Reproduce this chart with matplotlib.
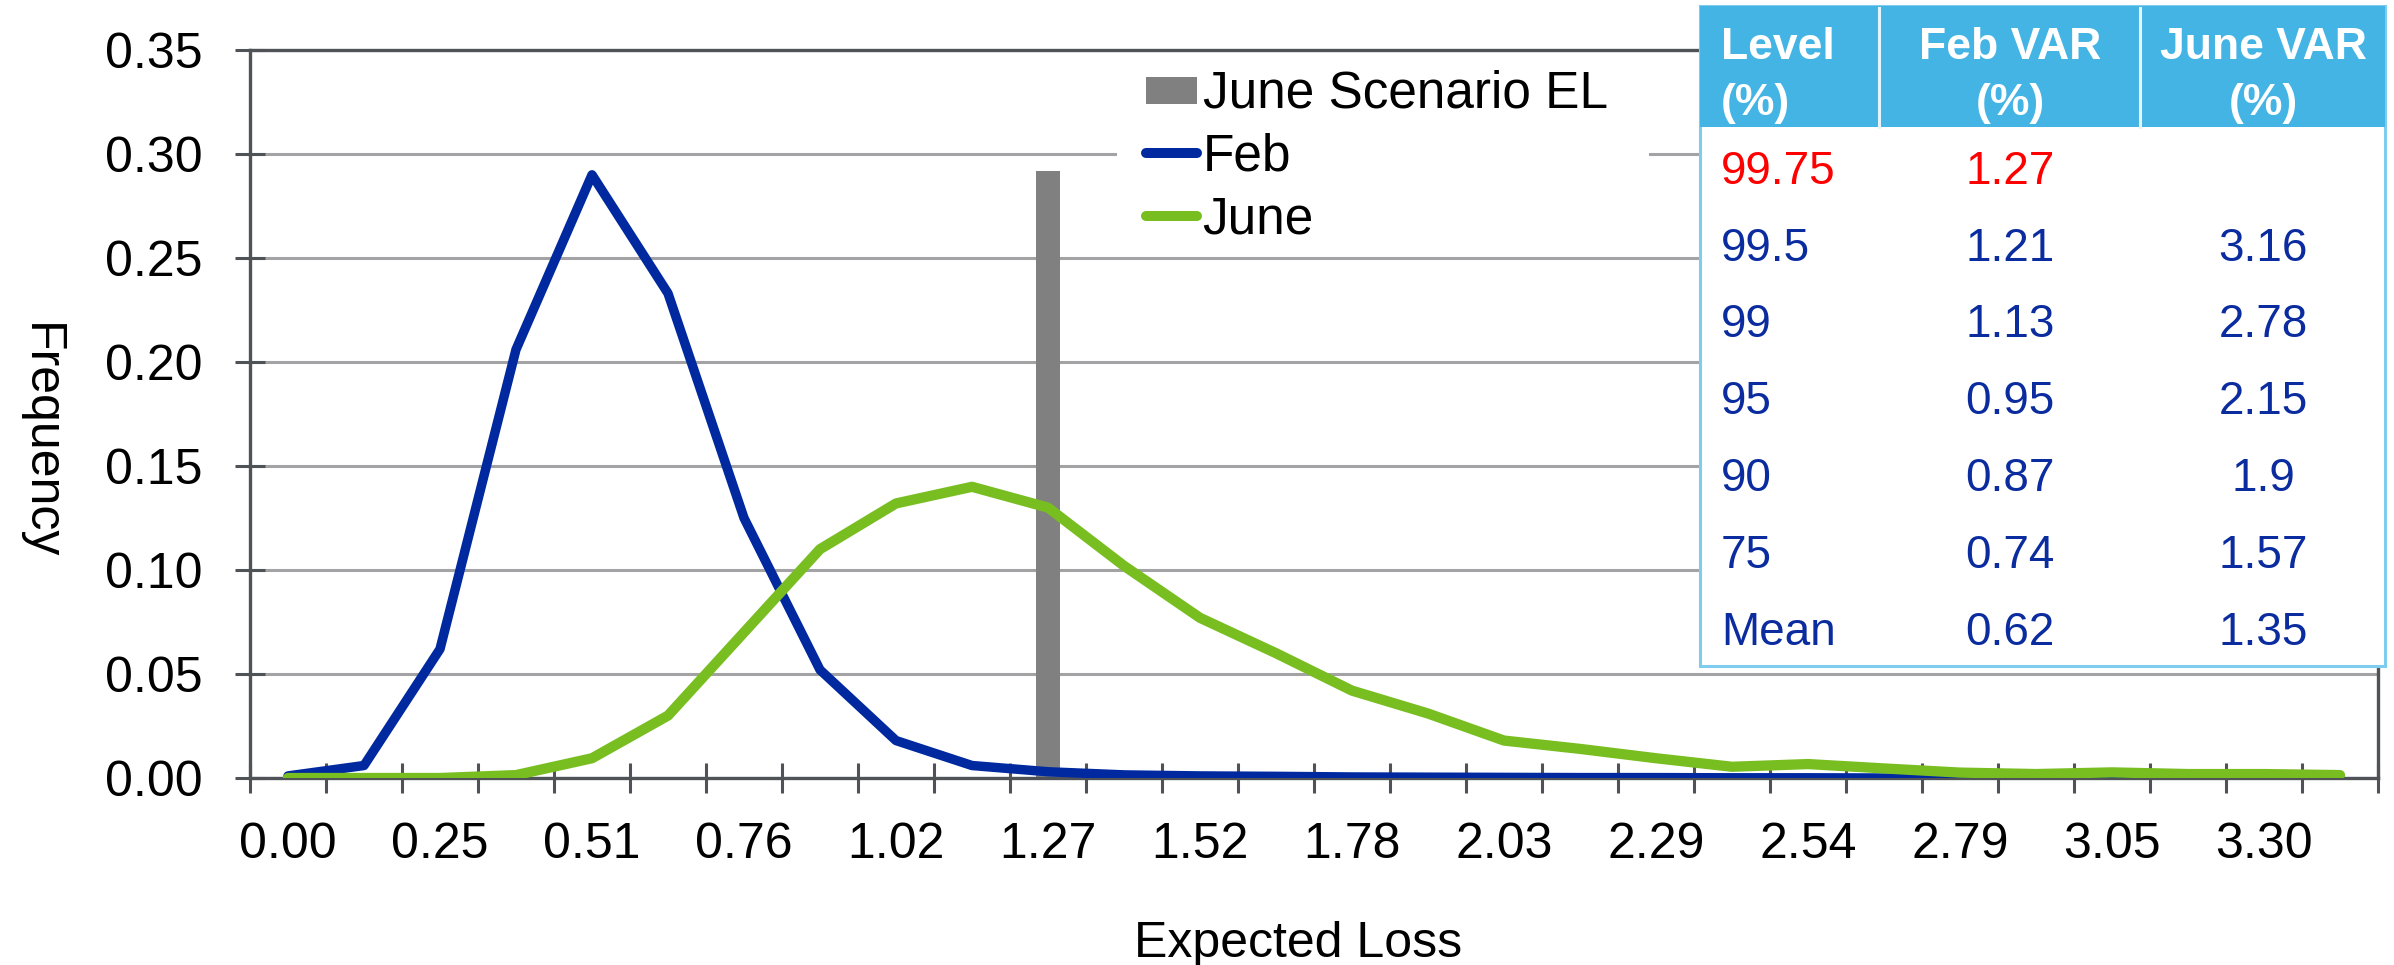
import matplotlib
matplotlib.use('Agg')
import matplotlib.pyplot as plt
from matplotlib.lines import Line2D
from matplotlib.patches import Rectangle
from matplotlib.legend_handler import HandlerPatch

plt.rcParams['font.family'] = ['Liberation Sans', 'DejaVu Sans']

# ---------------- data ----------------
categories = [0.00, 0.13, 0.25, 0.38, 0.51, 0.64, 0.76, 0.89, 1.02, 1.14,
              1.27, 1.40, 1.52, 1.65, 1.78, 1.91, 2.03, 2.16, 2.29, 2.41,
              2.54, 2.67, 2.79, 2.92, 3.05, 3.18, 3.30, 3.43]
feb = [0.001, 0.006, 0.062, 0.206, 0.290, 0.233, 0.125, 0.052, 0.018, 0.006,
       0.003, 0.0015, 0.001, 0.0008, 0.0005, 0.0004, 0.0003, 0.0002, 0.0002, 0.0001,
       0.0001, 0.0, 0.0, 0.0, 0.0, 0.0, 0.0, 0.0]
june = [0.0, 0.0, 0.0, 0.0014, 0.0095, 0.030, 0.070, 0.110, 0.132, 0.140,
        0.130, 0.102, 0.077, 0.060, 0.042, 0.031, 0.018, 0.014, 0.0095, 0.0054,
        0.0067, 0.0046, 0.0026, 0.0019, 0.0027, 0.0019, 0.0019, 0.0014]
scenario_el_x = 1.27
scenario_el_height = 0.292
y_ticks = [0.00, 0.05, 0.10, 0.15, 0.20, 0.25, 0.30, 0.35]

table_header = [("Level", "(%)"), ("Feb VAR", "(%)"), ("June VAR", "(%)")]
levels = ["99.75", "99.5", "99", "95", "90", "75", "Mean"]
feb_var = ["1.27", "1.21", "1.13", "0.95", "0.87", "0.74", "0.62"]
june_var = ["", "3.16", "2.78", "2.15", "1.9", "1.57", "1.35"]

# ---------------- style ----------------
BLUE = '#0029A0'
GREEN = '#78BE20'
GRAY = '#808080'
SPINE = '#4F5358'
GRID = '#A3A3A6'
TBL_HEAD = '#44B4E5'
TBL_EDGE = '#7FCDEE'
TXT_BLUE = '#0B2C9F'
TXT_RED = '#FF0000'

W, H = 2394, 965
fig = plt.figure(figsize=(W / 100, H / 100), dpi=100)


def fx(p):
    return p / W


def fy(p):
    return 1 - p / H


ax = fig.add_axes([fx(250), fy(778), fx(2378) - fx(250), fy(50) - fy(778)])
x = list(range(len(categories)))
ax.set_xlim(-0.5, len(categories) - 0.5)
ax.set_ylim(0, 0.35)

# grid
ax.set_yticks(y_ticks)
ax.set_yticklabels([f"{v:.2f}" for v in y_ticks])
ax.yaxis.grid(True, color=GRID, lw=2.2, zorder=0)
ax.set_axisbelow(True)

for s in ax.spines.values():
    s.set_color(SPINE)
    s.set_linewidth(2.4)

# bar + lines
ax.bar(categories.index(scenario_el_x), scenario_el_height, width=0.316,
       color=GRAY, zorder=2)
ax.plot(x, feb, color=BLUE, lw=6.8, zorder=3, solid_capstyle='round',
        solid_joinstyle='round')
ax.plot(x, june, color=GREEN, lw=7.4, zorder=4, solid_capstyle='round',
        solid_joinstyle='round')

# ticks
ax.set_xticks([i - 0.5 for i in range(len(categories) + 1)])
ax.set_xticklabels([])
ax.set_xticks(x[::2], minor=True)
ax.set_xticklabels([f"{categories[i]:.2f}" for i in x[::2]], minor=True)
ax.tick_params(axis='x', which='major', direction='inout', length=22,
               width=2.2, color=SPINE, labelbottom=False)
ax.tick_params(axis='x', which='minor', length=0, pad=32, labelsize=36)
ax.tick_params(axis='y', which='major', direction='inout', length=22,
               width=2.2, color=SPINE, pad=23, labelsize=36)

# axis labels
fig.text(fx(40), fy(441), "Frequency", rotation=-90, ha='center',
         va='center', fontsize=36)
fig.text(fx(1298), fy(957), "Expected Loss", ha='center', va='baseline',
         fontsize=36)

# legend
ax.add_patch(Rectangle((fx(1117), fy(252)), fx(1649) - fx(1117),
                       fy(58) - fy(252), transform=fig.transFigure,
                       facecolor='white', edgecolor='none', zorder=4.5))


def square_patch(legend, orig_handle, xdescent, ydescent, width, height,
                 fontsize):
    return Rectangle((-xdescent, -ydescent + 0.125 * height),
                     width, 0.75 * height)


h_bar = Rectangle((0, 0), 1, 1, facecolor=GRAY, edgecolor='none')
h_feb = Line2D([], [], color=BLUE, lw=7.2, solid_capstyle='round')
h_june = Line2D([], [], color=GREEN, lw=7.2, solid_capstyle='round')
leg = ax.legend([h_bar, h_feb, h_june], ["June Scenario EL", "Feb", "June"],
                loc='upper left', bbox_to_anchor=(fx(1146), fy(70)),
                bbox_transform=fig.transFigure, frameon=False, fontsize=37,
                borderpad=0, borderaxespad=0, handletextpad=0.1,
                handlelength=1.0, labelspacing=0.27,
                handler_map={Rectangle: HandlerPatch(patch_func=square_patch)})
leg.set_zorder(6)

# table
tx0, tx1, ty0, ty1, thead = 1700, 2385, 6.5, 666, 127
fig.add_artist(Rectangle((fx(tx0), fy(ty1)), fx(tx1) - fx(tx0),
                         fy(ty0) - fy(ty1), transform=fig.transFigure,
                         facecolor='white', edgecolor=TBL_EDGE, lw=2.2,
                         zorder=10))
fig.add_artist(Rectangle((fx(tx0), fy(thead)), fx(tx1) - fx(tx0),
                         fy(ty0) - fy(thead), transform=fig.transFigure,
                         facecolor=TBL_HEAD, edgecolor='none', zorder=10.5))
for xd in (1879, 2140):
    fig.add_artist(Line2D([fx(xd), fx(xd)], [fy(ty0 + 1), fy(thead)],
                          transform=fig.transFigure, color='#E6F4FB',
                          lw=2.2, zorder=10.6))

col_x = [1721, 2010, 2263]
col_ha = ['left', 'center', 'center']
for (l1, l2), cx, ha in zip(table_header, col_x, col_ha):
    fig.text(fx(cx), fy(59), l1, ha=ha, va='baseline', fontsize=32,
             fontweight='bold', color='white', zorder=11)
    fig.text(fx(cx), fy(115), l2, ha=ha, va='baseline', fontsize=32,
             fontweight='bold', color='white', zorder=11)

row_base = [184, 261, 337, 414, 491, 568, 645]
for r, (lv, fv, jv) in enumerate(zip(levels, feb_var, june_var)):
    c = TXT_RED if r == 0 else TXT_BLUE
    for val, cx, ha in zip((lv, fv, jv), col_x, col_ha):
        fig.text(fx(cx), fy(row_base[r]), val, ha=ha, va='baseline',
                 fontsize=33, color=c, zorder=11)

fig.savefig('out.png', dpi=100)
